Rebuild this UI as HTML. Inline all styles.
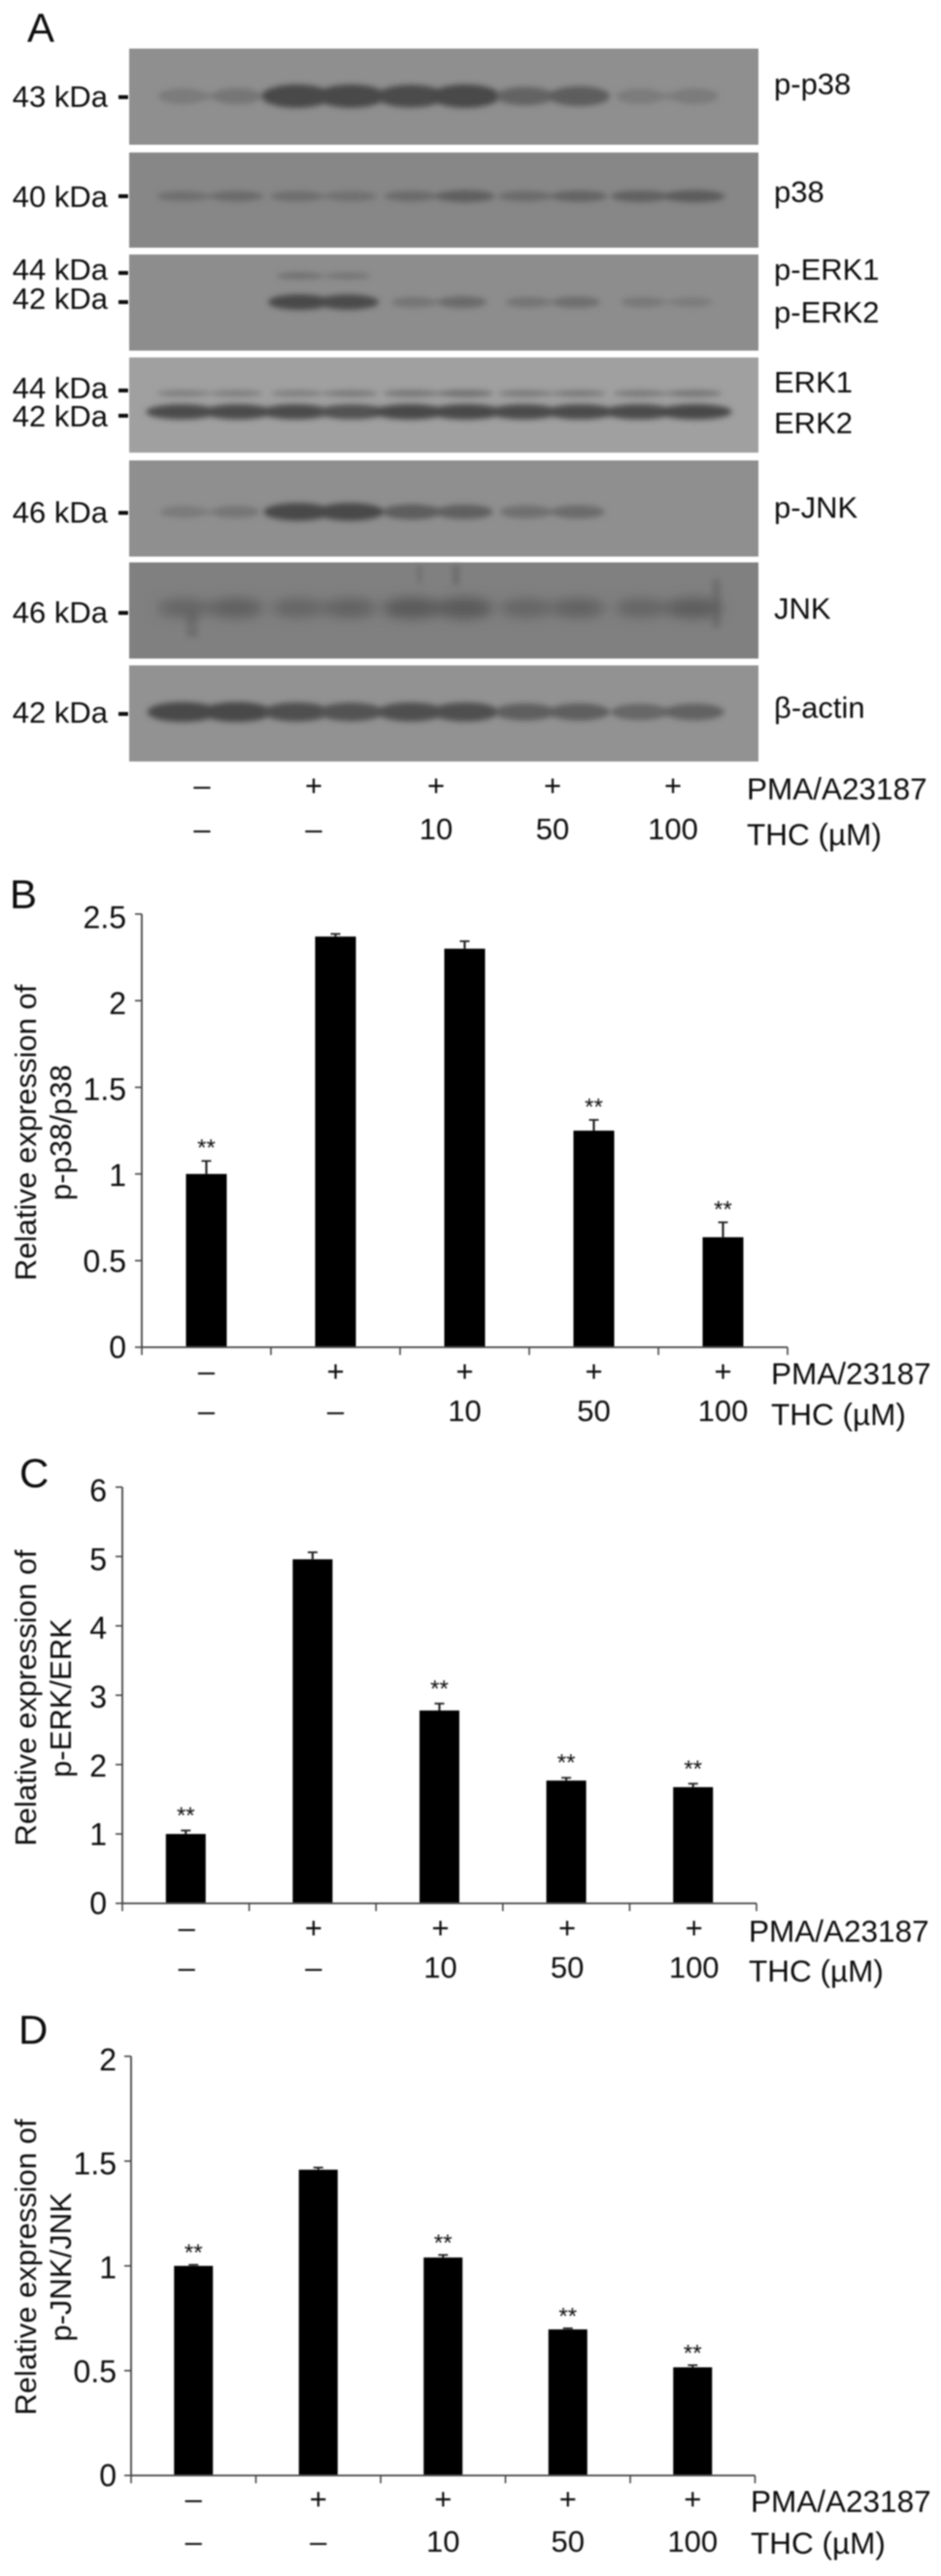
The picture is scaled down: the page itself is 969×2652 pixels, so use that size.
<!DOCTYPE html>
<html lang="en">
<head>
<meta charset="utf-8">
<title>Western blots and relative expression charts</title>
<style>
html,body{margin:0;padding:0;background:#fff;}
svg{display:block;}
text{font-family:"Liberation Sans",sans-serif;fill:#111;}
</style>
</head>
<body>
<svg id="figure" xmlns="http://www.w3.org/2000/svg" width="969" height="2652" viewBox="0 0 969 2652">
  <defs>
    <filter id="soft" x="-5%" y="-5%" width="110%" height="110%"><feGaussianBlur stdDeviation="0.7"/></filter>
    <filter id="bandBlur" x="-30%" y="-100%" width="160%" height="300%"><feGaussianBlur stdDeviation="2.8"/></filter>
    <filter id="smearBlur" x="-30%" y="-100%" width="160%" height="300%"><feGaussianBlur stdDeviation="6.5"/></filter>
  </defs>
  <g id="root" filter="url(#soft)"></g>
</svg>
<script>
// ---- Blot band intensities (left lobe, right lobe for each of five lanes) ----
const pp38Bands   = [[.3,.35],[1,1],[.95,1],[.6,.7],[.28,.3]];
const p38Bands    = [[.4,.45],[.42,.38],[.45,.65],[.45,.55],[.6,.7]];
const pErk1Bands  = [[0,0],[.4,.35],[0,0],[0,0],[0,0]];
const pErk2Bands  = [[0,0],[1,.95],[.35,.5],[.35,.45],[.3,.25]];
const erk1Bands   = [[.4,.4],[.4,.45],[.5,.55],[.45,.45],[.45,.5]];
const erk2Bands   = [[.95,.95],[.95,.9],[1,1],[.95,.95],[.95,1]];
const pJnkBands   = [[.3,.35],[1,1],[.7,.65],[.45,.5],[0,0]];
const jnkBands    = [[.5,.6],[.5,.55],[.7,.7],[.5,.55],[.5,.65]];
const actinBands  = [[1,1],[.9,.85],[.9,.9],[.7,.7],[.6,.65]];

// ---- Shared treatment rows ----
const pmaRow = ['–','+','+','+','+'];
const thcRow = ['–','–','10','50','100'];

// ---- Chart B: p-p38/p38 ----
const bValues = [1.0,2.37,2.30,1.25,0.635];
const bErrors = [0.075,0.015,0.043,0.062,0.086];
const bStars  = [true,false,false,true,true];
const bTicks  = [0,0.5,1,1.5,2,2.5];

// ---- Chart C: p-ERK/ERK ----
const cValues = [1.0,4.96,2.78,1.77,1.675];
const cErrors = [0.05,0.10,0.10,0.04,0.05];
const cStars  = [true,false,true,true,true];
const cTicks  = [0,1,2,3,4,5,6];

// ---- Chart D: p-JNK/JNK ----
const dValues = [1.0,1.459,1.04,0.697,0.516];
const dErrors = [0.005,0.01,0.012,0.005,0.01];
const dStars  = [true,false,true,true,true];
const dTicks  = [0,0.5,1,1.5,2];

const NS = 'http://www.w3.org/2000/svg';
const root = document.getElementById('root');

function shape(tag, name, attrs, parent) {
  const el = document.createElementNS(NS, tag);
  for (const k in attrs) el.setAttribute(k, attrs[k]);
  
  
  (parent || root).appendChild(el);
  return el;
}
function label(str, name, x, y, size, anchor, parent) {
  const el = shape('text', name, {x:x, y:y, 'font-size':size, 'text-anchor':anchor || 'start'}, parent);
  el.textContent = str;
  return el;
}
function titleLine(str, name, x, yCenter) {
  const el = shape('text', name, {
    x:0, y:0, 'font-size':31, 'text-anchor':'middle',
    transform:'translate(' + x + ' ' + yCenter + ') rotate(-90)', fill:'#2a2a2a'
  });
  el.textContent = str;
  return el;
}

// ---------- Panel letters ----------
label('A','panel-letter-a',28,43,42);
label('B','panel-letter-b',10,935,42);
label('C','panel-letter-c',20,1531,42);
label('D','panel-letter-d',19,2104,42);

// ---------- Blots ----------
function laneCenter(i){ return 216 + 117.5 * i + (i === 4 ? 1 : 0); }
function grayMix(bg, a) {
  const dark = 0x48;
  const v = Math.round(bg * (1 - a) + dark * a);
  return 'rgb(' + v + ',' + v + ',' + v + ')';
}

function drawBands(bands, name, y, ry, spread, bg, parent, smear) {
  const g = shape('g', name, {filter: smear ? 'url(#smearBlur)' : 'url(#bandBlur)'}, parent);
  bands.forEach(function (lane, i) {
    const cx = laneCenter(i);
    if (Math.max(lane[0], lane[1]) === 0) return;
    const rxL = spread * (0.62 + 0.5 * lane[0]) * 0.58;
    const rxR = spread * (0.62 + 0.5 * lane[1]) * 0.58;
    const low = Math.min(lane[0], lane[1]);
    shape('rect', name + '-bridge', {x:cx - spread * 0.55, y:y - ry * (0.15 + low * 0.6), width:spread * 1.1, height:ry * (0.3 + low * 1.2), fill:grayMix(bg, low * 0.85)}, g);
    shape('ellipse', name + '-lobe-left', {cx:cx - spread * 0.5, cy:y, rx:rxL, ry:ry * (0.6 + 0.55 * lane[0]), fill:grayMix(bg, lane[0])}, g);
    shape('ellipse', name + '-lobe-right', {cx:cx + spread * 0.5, cy:y, rx:rxR, ry:ry * (0.6 + 0.55 * lane[1]), fill:grayMix(bg, lane[1])}, g);
  });
}

function blotPanel(name, top, bottom, fill) {
  return shape('rect', name, {x:133, y:top, width:648, height:bottom - top, fill:fill});
}

blotPanel('blot-p-p38', 50, 149, '#8f8f8f');
blotPanel('blot-p38', 157, 255, '#878787');
blotPanel('blot-p-erk', 262, 361, '#8d8d8d');
blotPanel('blot-erk', 368, 466, '#a0a0a0');
blotPanel('blot-p-jnk', 474, 573, '#8f8f8f');
blotPanel('blot-jnk', 579, 678, '#808080');
blotPanel('blot-actin', 685, 784, '#929292');

const blotBands = shape('g', 'blot-bands', {});
drawBands(pp38Bands, 'bands-p-p38', 99, 10.5, 56, 0x8f, blotBands);
drawBands(p38Bands, 'bands-p38', 202, 6.5, 56, 0x87, blotBands);
drawBands(pErk1Bands, 'bands-p-erk1', 284, 4.5, 50, 0x8d, blotBands);
drawBands(pErk2Bands, 'bands-p-erk2', 311, 7, 50, 0x8d, blotBands);
drawBands(erk1Bands, 'bands-erk1', 405, 4, 56, 0xa0, blotBands);
drawBands(erk2Bands, 'bands-erk2', 424, 7, 58, 0xa0, blotBands);
drawBands(pJnkBands, 'bands-p-jnk', 527, 8, 54, 0x8f, blotBands);
drawBands(jnkBands, 'bands-jnk', 626, 11, 54, 0x80, blotBands, true);
drawBands(actinBands, 'bands-actin', 733, 9, 56, 0x92, blotBands);

const jnkStreaks = shape('g', 'jnk-streaks', {filter:'url(#bandBlur)', opacity:.45}, blotBands);
shape('rect', 'jnk-streak', {x:430, y:582, width:4, height:18, fill:'#555'}, jnkStreaks);
shape('rect', 'jnk-streak', {x:466, y:582, width:7, height:20, fill:'#555'}, jnkStreaks);
shape('rect', 'jnk-streak', {x:192, y:628, width:12, height:28, fill:'#5c5c5c'}, jnkStreaks);
shape('rect', 'jnk-streak', {x:733, y:596, width:9, height:50, fill:'#5c5c5c'}, jnkStreaks);

// kDa markers
const kdaNames = ['43 kDa','40 kDa','44 kDa','42 kDa','44 kDa','42 kDa','46 kDa','46 kDa','42 kDa'];
const kdaTextY = [99,202,277,307,399,428,527,630,733];
const kdaDashY = [100,202,281,311,402,428,528,631,735];
kdaNames.forEach(function (s, i) {
  label(s, 'kda-label', 111, kdaTextY[i] + 11, 31, 'end');
  shape('rect', 'kda-marker-dash', {x:122, y:kdaDashY[i] - 2, width:10, height:4, fill:'#111'});
});

// Protein labels
label('p-p38','protein-label-p-p38',797,97,31);
label('p38','protein-label-p38',797,208,31);
label('p-ERK1','protein-label-p-erk1',797,288,31);
label('p-ERK2','protein-label-p-erk2',797,332,31);
label('ERK1','protein-label-erk1',797,404,31);
label('ERK2','protein-label-erk2',797,446,31);
label('p-JNK','protein-label-p-jnk',797,533,31);
label('JNK','protein-label-jnk',797,637,31);
label('β-actin','protein-label-beta-actin',797,739,31);

// Blot treatment rows
const blotRowX = [208,323,449,569,693];
pmaRow.forEach(function (s, i) {
  label(s, 'blot-pma-mark', blotRowX[i], 819, 31, 'middle');
});
thcRow.forEach(function (s, i) {
  label(s, 'blot-thc-mark', blotRowX[i], 864, 31, 'middle');
});
label('PMA/A23187','blot-pma-label',769,823,31.5);
label('THC (µM)','blot-thc-label',769,870,31.5);

// ---------- Bar charts ----------
function drawChart(c) {
  const g = shape('g', c.id, {});
  const yScale = function (v) { return c.bottom - (v / c.max) * (c.bottom - c.top); };
  const n = c.values.length;
  const pitch = (c.right - c.left) / n;
  const xScale = function (i) { return c.left + pitch * (i + 0.5); };

  // bars, error bars, stars
  c.values.forEach(function (v, i) {
    const cx = xScale(i);
    const topErr = yScale(v + c.errors[i]);
    shape('line', c.id + '-error-stem', {x1:cx, x2:cx, y1:yScale(v), y2:topErr, stroke:'#222', 'stroke-width':2.2}, g);
    shape('line', c.id + '-error-cap', {x1:cx - 5, x2:cx + 5, y1:topErr, y2:topErr, stroke:'#222', 'stroke-width':1.8}, g);
    shape('rect', c.id + '-bar-' + (i + 1), {x:cx - c.barWidth / 2, y:yScale(v), width:c.barWidth, height:c.bottom - yScale(v), fill:'#000'}, g);
    if (c.stars[i]) {
      label('**', c.id + '-significance', cx, topErr - c.starGap + 10.5, 24, 'middle', g);
    }
  });

  // axes
  shape('line', c.id + '-y-axis', {x1:c.left, x2:c.left, y1:c.top, y2:c.bottom, stroke:'#444', 'stroke-width':1.8}, g);
  shape('line', c.id + '-x-axis', {x1:c.left, x2:c.right, y1:c.bottom, y2:c.bottom, stroke:'#444', 'stroke-width':1.8}, g);
  c.ticks.forEach(function (t) {
    const y = yScale(t);
    shape('line', c.id + '-y-tick', {x1:c.left - 7, x2:c.left, y1:y, y2:y, stroke:'#444', 'stroke-width':1.6}, g);
    const shift = 11 + 3.5 * (t / c.max);
    label(String(t), c.id + '-y-tick-label', c.tickRight, y + shift, 32, 'end', g);
  });
  for (let i = 0; i <= n; i++) {
    const x = c.left + pitch * i;
    shape('line', c.id + '-x-tick', {x1:x, x2:x, y1:c.bottom, y2:c.bottom + 8, stroke:'#444', 'stroke-width':1.6}, g);
  }

  // titles
  titleLine('Relative expression of', c.id + '-y-title-line-1', 37, c.titleY);
  titleLine(c.yTitle, c.id + '-y-title-line-2', 73, c.titleY);

  // treatment rows
  pmaRow.forEach(function (s, i) {
    label(s, c.id + '-pma-mark', xScale(i) + c.rowDx, c.rowA + 11, 31, 'middle', g);
  });
  thcRow.forEach(function (s, i) {
    label(s, c.id + '-thc-mark', xScale(i) + c.rowDx, c.rowB + 11, 31, 'middle', g);
  });
  label(c.pmaText, c.id + '-pma-label', c.labelX, c.labelA, 31.5, 'start', g);
  label('THC (µM)', c.id + '-thc-label', c.labelX, c.labelB, 31.5, 'start', g);
}

drawChart({
  id:'chart-b', values:bValues, errors:bErrors, stars:bStars, ticks:bTicks, max:2.5,
  left:146, right:811, top:941, bottom:1387, barWidth:42, tickRight:130, starGap:16,
  yTitle:'p-p38/p38', titleY:1166, rowDx:0, rowA:1411, rowB:1452,
  pmaText:'PMA/23187', labelX:794, labelA:1425, labelB:1467
});
drawChart({
  id:'chart-c', values:cValues, errors:cErrors, stars:cStars, ticks:cTicks, max:6,
  left:126, right:779, top:1531, bottom:1959.5, barWidth:41, tickRight:110, starGap:18,
  yTitle:'p-ERK/ERK', titleY:1748, rowDx:1, rowA:1984, rowB:2025,
  pmaText:'PMA/A23187', labelX:771, labelA:1999, labelB:2040
});
drawChart({
  id:'chart-d', values:dValues, errors:dErrors, stars:dStars, ticks:dTicks, max:2,
  left:135, right:777.5, top:2117, bottom:2548.5, barWidth:40, tickRight:120, starGap:15,
  yTitle:'p-JNK/JNK', titleY:2334, rowDx:0, rowA:2572, rowB:2616,
  pmaText:'PMA/A23187', labelX:773, labelA:2586, labelB:2629
});
</script>
</body>
</html>
